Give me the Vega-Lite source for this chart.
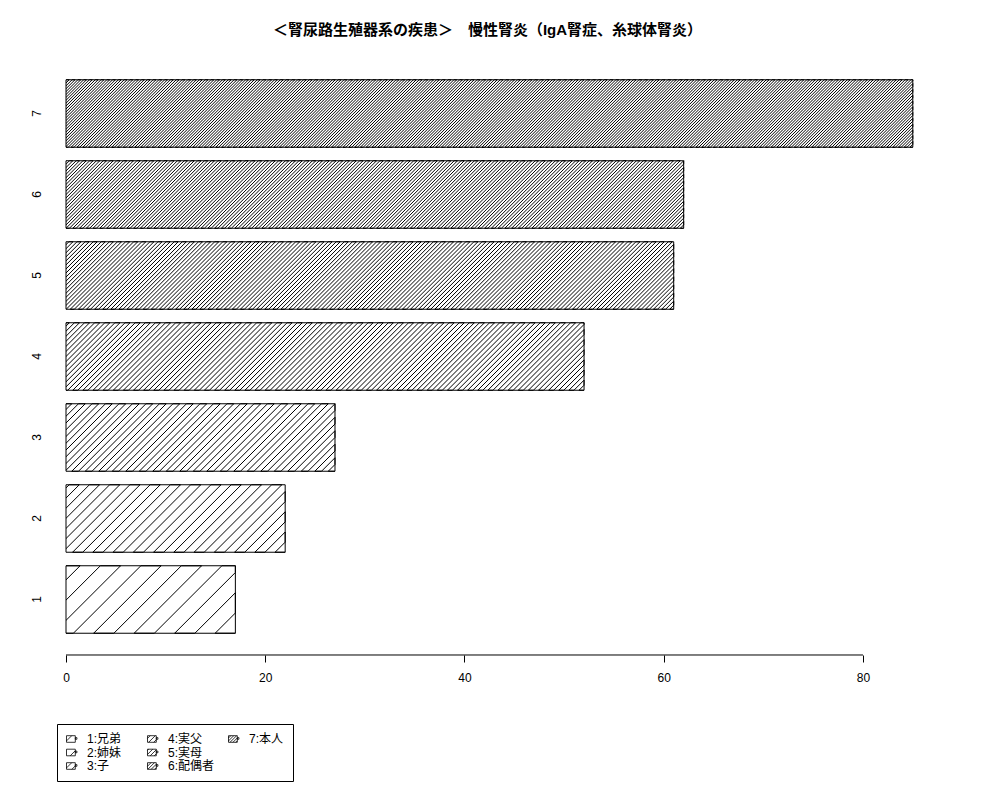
{
  "$schema": "https://vega.github.io/schema/vega-lite/v6.json",
  "autosize": {"type": "none"},
  "width": 881,
  "height": 597,
  "padding": {"left": 66, "top": 58, "right": 53, "bottom": 145},
  "background": "white",
  "title": {
    "text": "＜腎尿路生殖器系の疾患＞　慢性腎炎（IgA腎症、糸球体腎炎）",
    "font": "Liberation Sans, Noto Sans CJK JP",
    "fontSize": 15,
    "fontWeight": "bold",
    "color": "black",
    "anchor": "middle",
    "dx": -19,
    "offset": 20
  },
  "data": {
    "values": [
      {"rel": "1", "label": "1:兄弟", "n": 17},
      {"rel": "2", "label": "2:姉妹", "n": 22},
      {"rel": "3", "label": "3:子", "n": 27},
      {"rel": "4", "label": "4:実父", "n": 52},
      {"rel": "5", "label": "5:実母", "n": 61},
      {"rel": "6", "label": "6:配偶者", "n": 62},
      {"rel": "7", "label": "7:本人", "n": 85}
    ]
  },
  "encoding": {
    "y": {
      "field": "rel",
      "type": "nominal",
      "sort": ["7", "6", "5", "4", "3", "2", "1"],
      "scale": {"paddingInner": 0.16667, "paddingOuter": 0.26852},
      "axis": {
        "title": null,
        "domain": false,
        "ticks": false,
        "tickSize": 0,
        "labelAngle": -90,
        "labelAlign": "center",
        "labelBaseline": "middle",
        "labelPadding": 30,
        "labelFont": "Liberation Sans",
        "labelFontSize": 12,
        "labelColor": "black"
      }
    },
    "x": {
      "field": "n",
      "type": "quantitative",
      "scale": {"domain": [0, 88.432], "nice": false},
      "axis": {
        "title": null,
        "values": [0, 20, 40, 60, 80],
        "format": "d",
        "grid": false,
        "domain": false,
        "tickColor": "black",
        "tickSize": 7,
        "tickWidth": 1,
        "labelFont": "Liberation Sans",
        "labelFontSize": 12,
        "labelColor": "black",
        "labelPadding": 10,
        "labelFlush": false,
        "labelOverlap": false
      }
    }
  },
  "layer": [
    {
      "mark": {
        "type": "point",
        "filled": false,
        "stroke": "black",
        "strokeWidth": 1,
        "strokeJoin": "bevel",
        "opacity": 1,
        "size": 4556.25,
        "clip": true
      },
      "encoding": {
        "shape": {
          "field": "label",
          "type": "nominal",
          "legend": null,
          "scale": {
            "domain": ["1:兄弟", "2:姉妹", "3:子", "4:実父", "5:実母", "6:配偶者", "7:本人"],
            "range": [
              "M0 1l-.6 0 .6-.6 0-.6-1.2 1.2-.6 0 1.8-1.8 0-.2-.4 0-2 2-.6 0 2-2-.6 0-2 2-.6 0 2-2-.6 0-2 2-.6 0 2-2-.6 0-2 2-.6 0 2-2-.6 0-2 2-.6 0 2-2-.6 0-2 2-.6 0 2-2-.6 0-2 2",
              "M0 1l-.3 0 .3-.3 0-.3-.6 .6-.3 0 .9-.9 0-.3-1.2 1.2-.3 0 1.5-1.5 0-.3-1.8 1.8-.3 0 2-2-.3 0-2 2-.3 0 2-2-.3 0-2 2-.3 0 2-2-.3 0-2 2-.3 0 2-2-.3 0-2 2-.3 0 2-2-.3 0-2 2-.3 0 2-2-.3 0-2 2-.3 0 2-2-.3 0-2 2-.3 0 2-2-.3 0-2 2-.3 0 2-2-.3 0-2 2-.3 0 2-2-.3 0-2 2-.3 0 2-2-.3 0-2 2-.3 0 2-2-.3 0-2 2-.3 0 2-2-.3 0-2 2-.3 0 2-2-.3 0-2 2-.3 0 2-2-.3 0-2 2-.3 0 2-2-.3 0-2 2",
              "M0 1l-.2 0 .2-.2 0-.2-.4 .4-.2 0 .6-.6 0-.2-.8 .8-.2 0 1-1 0-.2-1.2 1.2-.2 0 1.4-1.4 0-.2-1.6 1.6-.2 0 1.8-1.8 0-.2-2 2-.2 0 2-2-.2 0-2 2-.2 0 2-2-.2 0-2 2-.2 0 2-2-.2 0-2 2-.2 0 2-2-.2 0-2 2-.2 0 2-2-.2 0-2 2-.2 0 2-2-.2 0-2 2-.2 0 2-2-.2 0-2 2-.2 0 2-2-.2 0-2 2-.2 0 2-2-.2 0-2 2-.2 0 2-2-.2 0-2 2-.2 0 2-2-.2 0-2 2-.2 0 2-2-.2 0-2 2-.2 0 2-2-.2 0-2 2-.2 0 2-2-.2 0-2 2-.2 0 2-2-.2 0-2 2-.2 0 2-2-.2 0-2 2-.2 0 2-2-.2 0-2 2-.2 0 2-2-.2 0-2 2-.2 0 2-2-.2 0-2 2-.2 0 2-2-.2 0-2 2-.2 0 2-2-.2 0-2 2-.2 0 2-2-.2 0-2 2-.2 0 2-2-.2 0-2 2-.2 0 2-2-.2 0-2 2-.2 0 2-2-.2 0-2 2",
              "M0 1l-.15 0 .15-.15 0-.15-.3 .3-.15 0 .45-.45 0-.15-.6 .6-.15 0 .75-.75 0-.15-.9 .9-.15 0 1.05-1.05 0-.15-1.2 1.2-.15 0 1.35-1.35 0-.15-1.5 1.5-.15 0 1.65-1.65 0-.15-1.8 1.8-.15 0 1.95-1.95 0-.05-.1 0-2 2-.15 0 2-2-.15 0-2 2-.15 0 2-2-.15 0-2 2-.15 0 2-2-.15 0-2 2-.15 0 2-2-.15 0-2 2-.15 0 2-2-.15 0-2 2-.15 0 2-2-.15 0-2 2-.15 0 2-2-.15 0-2 2-.15 0 2-2-.15 0-2 2-.15 0 2-2-.15 0-2 2-.15 0 2-2-.15 0-2 2-.15 0 2-2-.15 0-2 2-.15 0 2-2-.15 0-2 2-.15 0 2-2-.15 0-2 2-.15 0 2-2-.15 0-2 2-.15 0 2-2-.15 0-2 2-.15 0 2-2-.15 0-2 2-.15 0 2-2-.15 0-2 2-.15 0 2-2-.15 0-2 2-.15 0 2-2-.15 0-2 2-.15 0 2-2-.15 0-2 2-.15 0 2-2-.15 0-2 2-.15 0 2-2-.15 0-2 2-.15 0 2-2-.15 0-2 2-.15 0 2-2-.15 0-2 2-.15 0 2-2-.15 0-2 2-.15 0 2-2-.15 0-2 2-.15 0 2-2-.15 0-2 2-.15 0 2-2-.15 0-2 2-.15 0 2-2-.15 0-2 2-.15 0 2-2-.15 0-2 2-.15 0 2-2-.15 0-2 2-.15 0 2-2-.15 0-2 2-.15 0 2-2-.15 0-2 2-.15 0 2-2-.15 0-2 2-.15 0 2-2-.15 0-2 2-.15 0 2-2-.15 0-2 2-.15 0 2-2-.15 0-2 2-.15 0 2-2-.15 0-2 2-.15 0 2-2-.15 0-2 2-.15 0 2-2-.15 0-2 2-.15 0 2-2-.15 0-2 2-.15 0 2-2-.15 0-2 2-.15 0 2-2-.15 0-2 2-.15 0 2-2-.15 0-2 2-.15 0 2-2-.15 0-2 2-.15 0 2-2-.15 0-2 2-.15 0 2-2-.15 0-2 2-.15 0 2-2-.15 0-2 2-.15 0 2-2-.15 0-2 2-.15 0 2-2-.15 0-2 2-.15 0 2-2-.15 0-2 2-.15 0 2-2-.15 0-2 2-.15 0 2-2-.15 0-2 2-.15 0 2-2-.15 0-2 2-.15 0 2-2-.15 0-2 2-.15 0 2-2-.15 0-2 2-.15 0 2-2-.15 0-2 2-.15 0 2-2-.15 0-2 2",
              "M0 1l-.12 0 .12-.12 0-.12-.24 .24-.12 0 .36-.36 0-.12-.48 .48-.12 0 .6-.6 0-.12-.72 .72-.12 0 .84-.84 0-.12-.96 .96-.12 0 1.08-1.08 0-.12-1.2 1.2-.12 0 1.32-1.32 0-.12-1.44 1.44-.12 0 1.56-1.56 0-.12-1.68 1.68-.12 0 1.8-1.8 0-.12-1.92 1.92-.12 0 2-2-.12 0-2 2-.12 0 2-2-.12 0-2 2-.12 0 2-2-.12 0-2 2-.12 0 2-2-.12 0-2 2-.12 0 2-2-.12 0-2 2-.12 0 2-2-.12 0-2 2-.12 0 2-2-.12 0-2 2-.12 0 2-2-.12 0-2 2-.12 0 2-2-.12 0-2 2-.12 0 2-2-.12 0-2 2-.12 0 2-2-.12 0-2 2-.12 0 2-2-.12 0-2 2-.12 0 2-2-.12 0-2 2-.12 0 2-2-.12 0-2 2-.12 0 2-2-.12 0-2 2-.12 0 2-2-.12 0-2 2-.12 0 2-2-.12 0-2 2-.12 0 2-2-.12 0-2 2-.12 0 2-2-.12 0-2 2-.12 0 2-2-.12 0-2 2-.12 0 2-2-.12 0-2 2-.12 0 2-2-.12 0-2 2-.12 0 2-2-.12 0-2 2-.12 0 2-2-.12 0-2 2-.12 0 2-2-.12 0-2 2-.12 0 2-2-.12 0-2 2-.12 0 2-2-.12 0-2 2-.12 0 2-2-.12 0-2 2-.12 0 2-2-.12 0-2 2-.12 0 2-2-.12 0-2 2-.12 0 2-2-.12 0-2 2-.12 0 2-2-.12 0-2 2-.12 0 2-2-.12 0-2 2-.12 0 2-2-.12 0-2 2-.12 0 2-2-.12 0-2 2-.12 0 2-2-.12 0-2 2-.12 0 2-2-.12 0-2 2-.12 0 2-2-.12 0-2 2-.12 0 2-2-.12 0-2 2-.12 0 2-2-.12 0-2 2-.12 0 2-2-.12 0-2 2-.12 0 2-2-.12 0-2 2-.12 0 2-2-.12 0-2 2-.12 0 2-2-.12 0-2 2-.12 0 2-2-.12 0-2 2-.12 0 2-2-.12 0-2 2-.12 0 2-2-.12 0-2 2-.12 0 2-2-.12 0-2 2-.12 0 2-2-.12 0-2 2-.12 0 2-2-.12 0-2 2-.12 0 2-2-.12 0-2 2-.12 0 2-2-.12 0-2 2-.12 0 2-2-.12 0-2 2-.12 0 2-2-.12 0-2 2-.12 0 2-2-.12 0-2 2-.12 0 2-2-.12 0-2 2-.12 0 2-2-.12 0-2 2-.12 0 2-2-.12 0-2 2-.12 0 2-2-.12 0-2 2-.12 0 2-2-.12 0-2 2-.12 0 2-2-.12 0-2 2-.12 0 2-2-.12 0-2 2-.12 0 2-2-.12 0-2 2-.12 0 2-2-.12 0-2 2-.12 0 2-2-.12 0-2 2-.12 0 2-2-.12 0-2 2-.12 0 2-2-.12 0-2 2-.12 0 2-2-.12 0-2 2-.12 0 2-2-.12 0-2 2-.12 0 2-2-.12 0-2 2-.12 0 2-2-.12 0-2 2-.12 0 2-2-.12 0-2 2-.12 0 2-2-.12 0-2 2-.12 0 2-2-.12 0-2 2-.12 0 2-2-.12 0-2 2-.12 0 2-2-.12 0-2 2-.12 0 2-2-.12 0-2 2-.12 0 2-2-.12 0-2 2-.12 0 2-2-.12 0-2 2-.12 0 2-2-.12 0-2 2-.12 0 2-2-.12 0-2 2-.12 0 2-2-.12 0-2 2-.12 0 2-2-.12 0-2 2-.12 0 2-2-.12 0-2 2-.12 0 2-2-.12 0-2 2-.12 0 2-2-.12 0-2 2-.12 0 2-2-.12 0-2 2-.12 0 2-2-.12 0-2 2-.12 0 2-2-.12 0-2 2",
              "M0 1l-.1 0 .1-.1 0-.1-.2 .2-.1 0 .3-.3 0-.1-.4 .4-.1 0 .5-.5 0-.1-.6 .6-.1 0 .7-.7 0-.1-.8 .8-.1 0 .9-.9 0-.1-1 1-.1 0 1.1-1.1 0-.1-1.2 1.2-.1 0 1.3-1.3 0-.1-1.4 1.4-.1 0 1.5-1.5 0-.1-1.6 1.6-.1 0 1.7-1.7 0-.1-1.8 1.8-.1 0 1.9-1.9 0-.1-2 2-.1 0 2-2-.1 0-2 2-.1 0 2-2-.1 0-2 2-.1 0 2-2-.1 0-2 2-.1 0 2-2-.1 0-2 2-.1 0 2-2-.1 0-2 2-.1 0 2-2-.1 0-2 2-.1 0 2-2-.1 0-2 2-.1 0 2-2-.1 0-2 2-.1 0 2-2-.1 0-2 2-.1 0 2-2-.1 0-2 2-.1 0 2-2-.1 0-2 2-.1 0 2-2-.1 0-2 2-.1 0 2-2-.1 0-2 2-.1 0 2-2-.1 0-2 2-.1 0 2-2-.1 0-2 2-.1 0 2-2-.1 0-2 2-.1 0 2-2-.1 0-2 2-.1 0 2-2-.1 0-2 2-.1 0 2-2-.1 0-2 2-.1 0 2-2-.1 0-2 2-.1 0 2-2-.1 0-2 2-.1 0 2-2-.1 0-2 2-.1 0 2-2-.1 0-2 2-.1 0 2-2-.1 0-2 2-.1 0 2-2-.1 0-2 2-.1 0 2-2-.1 0-2 2-.1 0 2-2-.1 0-2 2-.1 0 2-2-.1 0-2 2-.1 0 2-2-.1 0-2 2-.1 0 2-2-.1 0-2 2-.1 0 2-2-.1 0-2 2-.1 0 2-2-.1 0-2 2-.1 0 2-2-.1 0-2 2-.1 0 2-2-.1 0-2 2-.1 0 2-2-.1 0-2 2-.1 0 2-2-.1 0-2 2-.1 0 2-2-.1 0-2 2-.1 0 2-2-.1 0-2 2-.1 0 2-2-.1 0-2 2-.1 0 2-2-.1 0-2 2-.1 0 2-2-.1 0-2 2-.1 0 2-2-.1 0-2 2-.1 0 2-2-.1 0-2 2-.1 0 2-2-.1 0-2 2-.1 0 2-2-.1 0-2 2-.1 0 2-2-.1 0-2 2-.1 0 2-2-.1 0-2 2-.1 0 2-2-.1 0-2 2-.1 0 2-2-.1 0-2 2-.1 0 2-2-.1 0-2 2-.1 0 2-2-.1 0-2 2-.1 0 2-2-.1 0-2 2-.1 0 2-2-.1 0-2 2-.1 0 2-2-.1 0-2 2-.1 0 2-2-.1 0-2 2-.1 0 2-2-.1 0-2 2-.1 0 2-2-.1 0-2 2-.1 0 2-2-.1 0-2 2-.1 0 2-2-.1 0-2 2-.1 0 2-2-.1 0-2 2-.1 0 2-2-.1 0-2 2-.1 0 2-2-.1 0-2 2-.1 0 2-2-.1 0-2 2-.1 0 2-2-.1 0-2 2-.1 0 2-2-.1 0-2 2-.1 0 2-2-.1 0-2 2-.1 0 2-2-.1 0-2 2-.1 0 2-2-.1 0-2 2-.1 0 2-2-.1 0-2 2-.1 0 2-2-.1 0-2 2-.1 0 2-2-.1 0-2 2-.1 0 2-2-.1 0-2 2-.1 0 2-2-.1 0-2 2-.1 0 2-2-.1 0-2 2-.1 0 2-2-.1 0-2 2-.1 0 2-2-.1 0-2 2-.1 0 2-2-.1 0-2 2-.1 0 2-2-.1 0-2 2-.1 0 2-2-.1 0-2 2-.1 0 2-2-.1 0-2 2-.1 0 2-2-.1 0-2 2-.1 0 2-2-.1 0-2 2-.1 0 2-2-.1 0-2 2-.1 0 2-2-.1 0-2 2-.1 0 2-2-.1 0-2 2-.1 0 2-2-.1 0-2 2-.1 0 2-2-.1 0-2 2-.1 0 2-2-.1 0-2 2-.1 0 2-2-.1 0-2 2-.1 0 2-2-.1 0-2 2-.1 0 2-2-.1 0-2 2-.1 0 2-2-.1 0-2 2-.1 0 2-2-.1 0-2 2-.1 0 2-2-.1 0-2 2-.1 0 2-2-.1 0-2 2-.1 0 2-2-.1 0-2 2-.1 0 2-2-.1 0-2 2-.1 0 2-2-.1 0-2 2-.1 0 2-2-.1 0-2 2-.1 0 2-2-.1 0-2 2-.1 0 2-2-.1 0-2 2-.1 0 2-2-.1 0-2 2-.1 0 2-2-.1 0-2 2-.1 0 2-2-.1 0-2 2-.1 0 2-2-.1 0-2 2-.1 0 2-2-.1 0-2 2-.1 0 2-2-.1 0-2 2-.1 0 2-2-.1 0-2 2-.1 0 2-2-.1 0-2 2-.1 0 2-2-.1 0-2 2-.1 0 2-2-.1 0-2 2-.1 0 2-2-.1 0-2 2-.1 0 2-2-.1 0-2 2",
              "M0 1l-.0857 0 .0857-.0857 0-.0857-.1714 .1714-.0857 0 .2571-.2571 0-.0857-.3428 .3428-.0857 0 .4285-.4285 0-.0857-.5142 .5142-.0857 0 .5999-.5999 0-.0857-.6856 .6856-.0857 0 .7713-.7713 0-.0857-.857 .857-.0857 0 .9427-.9427 0-.0857-1.0284 1.0284-.0857 0 1.1141-1.1141 0-.0857-1.1998 1.1998-.0857 0 1.2855-1.2855 0-.0857-1.3712 1.3712-.0857 0 1.4569-1.4569 0-.0857-1.5426 1.5426-.0857 0 1.6283-1.6283 0-.0857-1.714 1.714-.0857 0 1.7997-1.7997 0-.0857-1.8854 1.8854-.0857 0 1.9711-1.9711 0-.0289-.0568 0-2 2-.0857 0 2-2-.0857 0-2 2-.0857 0 2-2-.0857 0-2 2-.0857 0 2-2-.0857 0-2 2-.0857 0 2-2-.0857 0-2 2-.0857 0 2-2-.0857 0-2 2-.0857 0 2-2-.0857 0-2 2-.0857 0 2-2-.0857 0-2 2-.0857 0 2-2-.0857 0-2 2-.0857 0 2-2-.0857 0-2 2-.0857 0 2-2-.0857 0-2 2-.0857 0 2-2-.0857 0-2 2-.0857 0 2-2-.0857 0-2 2-.0857 0 2-2-.0857 0-2 2-.0857 0 2-2-.0857 0-2 2-.0857 0 2-2-.0857 0-2 2-.0857 0 2-2-.0857 0-2 2-.0857 0 2-2-.0857 0-2 2-.0857 0 2-2-.0857 0-2 2-.0857 0 2-2-.0857 0-2 2-.0857 0 2-2-.0857 0-2 2-.0857 0 2-2-.0857 0-2 2-.0857 0 2-2-.0857 0-2 2-.0857 0 2-2-.0857 0-2 2-.0857 0 2-2-.0857 0-2 2-.0857 0 2-2-.0857 0-2 2-.0857 0 2-2-.0857 0-2 2-.0857 0 2-2-.0857 0-2 2-.0857 0 2-2-.0857 0-2 2-.0857 0 2-2-.0857 0-2 2-.0857 0 2-2-.0857 0-2 2-.0857 0 2-2-.0857 0-2 2-.0857 0 2-2-.0857 0-2 2-.0857 0 2-2-.0857 0-2 2-.0857 0 2-2-.0857 0-2 2-.0857 0 2-2-.0857 0-2 2-.0857 0 2-2-.0857 0-2 2-.0857 0 2-2-.0857 0-2 2-.0857 0 2-2-.0857 0-2 2-.0857 0 2-2-.0857 0-2 2-.0857 0 2-2-.0857 0-2 2-.0857 0 2-2-.0857 0-2 2-.0857 0 2-2-.0857 0-2 2-.0857 0 2-2-.0857 0-2 2-.0857 0 2-2-.0857 0-2 2-.0857 0 2-2-.0857 0-2 2-.0857 0 2-2-.0857 0-2 2-.0857 0 2-2-.0857 0-2 2-.0857 0 2-2-.0857 0-2 2-.0857 0 2-2-.0857 0-2 2-.0857 0 2-2-.0857 0-2 2-.0857 0 2-2-.0857 0-2 2-.0857 0 2-2-.0857 0-2 2-.0857 0 2-2-.0857 0-2 2-.0857 0 2-2-.0857 0-2 2-.0857 0 2-2-.0857 0-2 2-.0857 0 2-2-.0857 0-2 2-.0857 0 2-2-.0857 0-2 2-.0857 0 2-2-.0857 0-2 2-.0857 0 2-2-.0857 0-2 2-.0857 0 2-2-.0857 0-2 2-.0857 0 2-2-.0857 0-2 2-.0857 0 2-2-.0857 0-2 2-.0857 0 2-2-.0857 0-2 2-.0857 0 2-2-.0857 0-2 2-.0857 0 2-2-.0857 0-2 2-.0857 0 2-2-.0857 0-2 2-.0857 0 2-2-.0857 0-2 2-.0857 0 2-2-.0857 0-2 2-.0857 0 2-2-.0857 0-2 2-.0857 0 2-2-.0857 0-2 2-.0857 0 2-2-.0857 0-2 2-.0857 0 2-2-.0857 0-2 2-.0857 0 2-2-.0857 0-2 2-.0857 0 2-2-.0857 0-2 2-.0857 0 2-2-.0857 0-2 2-.0857 0 2-2-.0857 0-2 2-.0857 0 2-2-.0857 0-2 2-.0857 0 2-2-.0857 0-2 2-.0857 0 2-2-.0857 0-2 2-.0857 0 2-2-.0857 0-2 2-.0857 0 2-2-.0857 0-2 2-.0857 0 2-2-.0857 0-2 2-.0857 0 2-2-.0857 0-2 2-.0857 0 2-2-.0857 0-2 2-.0857 0 2-2-.0857 0-2 2-.0857 0 2-2-.0857 0-2 2-.0857 0 2-2-.0857 0-2 2-.0857 0 2-2-.0857 0-2 2-.0857 0 2-2-.0857 0-2 2-.0857 0 2-2-.0857 0-2 2-.0857 0 2-2-.0857 0-2 2-.0857 0 2-2-.0857 0-2 2-.0857 0 2-2-.0857 0-2 2-.0857 0 2-2-.0857 0-2 2-.0857 0 2-2-.0857 0-2 2-.0857 0 2-2-.0857 0-2 2-.0857 0 2-2-.0857 0-2 2-.0857 0 2-2-.0857 0-2 2-.0857 0 2-2-.0857 0-2 2-.0857 0 2-2-.0857 0-2 2-.0857 0 2-2-.0857 0-2 2-.0857 0 2-2-.0857 0-2 2-.0857 0 2-2-.0857 0-2 2-.0857 0 2-2-.0857 0-2 2-.0857 0 2-2-.0857 0-2 2-.0857 0 2-2-.0857 0-2 2-.0857 0 2-2-.0857 0-2 2-.0857 0 2-2-.0857 0-2 2-.0857 0 2-2-.0857 0-2 2-.0857 0 2-2-.0857 0-2 2-.0857 0 2-2-.0857 0-2 2-.0857 0 2-2-.0857 0-2 2-.0857 0 2-2-.0857 0-2 2-.0857 0 2-2-.0857 0-2 2-.0857 0 2-2-.0857 0-2 2-.0857 0 2-2-.0857 0-2 2-.0857 0 2-2-.0857 0-2 2-.0857 0 2-2-.0857 0-2 2-.0857 0 2-2-.0857 0-2 2-.0857 0 2-2-.0857 0-2 2-.0857 0 2-2-.0857 0-2 2-.0857 0 2-2-.0857 0-2 2-.0857 0 2-2-.0857 0-2 2-.0857 0 2-2-.0857 0-2 2-.0857 0 2-2-.0857 0-2 2-.0857 0 2-2-.0857 0-2 2-.0857 0 2-2-.0857 0-2 2-.0857 0 2-2-.0857 0-2 2-.0857 0 2-2-.0857 0-2 2-.0857 0 2-2-.0857 0-2 2-.0857 0 2-2-.0857 0-2 2-.0857 0 2-2-.0857 0-2 2-.0857 0 2-2-.0857 0-2 2-.0857 0 2-2-.0857 0-2 2-.0857 0 2-2-.0857 0-2 2-.0857 0 2-2-.0857 0-2 2-.0857 0 2-2-.0857 0-2 2-.0857 0 2-2-.0857 0-2 2-.0857 0 2-2-.0857 0-2 2-.0857 0 2-2-.0857 0-2 2-.0857 0 2-2-.0857 0-2 2-.0857 0 2-2-.0857 0-2 2-.0857 0 2-2-.0857 0-2 2-.0857 0 2-2-.0857 0-2 2-.0857 0 2-2-.0857 0-2 2-.0857 0 2-2-.0857 0-2 2-.0857 0 2-2-.0857 0-2 2-.0857 0 2-2-.0857 0-2 2-.0857 0 2-2-.0857 0-2 2-.0857 0 2-2-.0857 0-2 2-.0857 0 2-2-.0857 0-2 2"
            ]
          }
        }
      }
    },
    {
      "mark": {"type": "bar", "fill": "transparent", "stroke": "black", "strokeWidth": 1}
    },
    {
      "mark": {"type": "point", "filled": false, "stroke": "black", "opacity": 0, "size": 121},
      "encoding": {
        "shape": {
          "field": "label",
          "type": "nominal",
          "scale": {
            "domain": ["1:兄弟", "2:姉妹", "3:子", "4:実父", "5:実母", "6:配偶者", "7:本人", " ", "  "],
            "range": [
              "M-1-.6H.6V.6H-1ZM.6-.25H.9V.05H.6ZM-.05-.6L-1 .35",
              "M-1-.6H.6V.6H-1ZM.6-.25H.9V.05H.6ZM.6-.33L-.33 .6",
              "M-1-.6H.6V.6H-1ZM.6-.25H.9V.05H.6ZM.6-.02L-.02 .6M-.05-.6L-1 .35",
              "M-1-.6H.6V.6H-1ZM.6-.25H.9V.05H.6ZM.6 .14L.14 .6M.41-.6L-.79 .6M-.51-.6L-1-.11",
              "M-1-.6H.6V.6H-1ZM.6-.25H.9V.05H.6ZM.6 .23L.23 .6M.6-.51L-.51 .6M-.05-.6L-1 .35M-.79-.6L-1-.39",
              "M-1-.6H.6V.6H-1ZM.6-.25H.9V.05H.6ZM.6 .29L.29 .6M.6-.33L-.33 .6M.26-.6L-.94 .6M-.36-.6L-1 .04",
              "M-1-.6H.6V.6H-1ZM.6-.25H.9V.05H.6ZM.6 .34L.34 .6M.6-.19L-.19 .6M.48-.6L-.72 .6M-.05-.6L-1 .35M-.58-.6L-1-.18",
              "M0 0",
              "M0 0"
            ]
          },
          "legend": {
            "title": null,
            "orient": "none",
            "legendX": -9,
            "legendY": 666,
            "columns": 3,
            "gridAlign": "all",
            "columnPadding": 11,
            "rowPadding": 1.5,
            "padding": 9,
            "strokeColor": "black",
            "symbolSize": 121,
            "symbolStrokeWidth": 0.8,
            "symbolStrokeColor": "black",
            "symbolFillColor": "transparent",
            "symbolOpacity": 1,
            "labelFont": "Liberation Sans, Noto Sans CJK JP",
            "labelFontSize": 12,
            "labelColor": "black",
            "labelOffset": 9
          }
        }
      }
    },
    {
      "data": {"values": [{"from": 0, "to": 80}]},
      "mark": {"type": "rule", "color": "black", "strokeWidth": 1},
      "encoding": {
        "x": {"field": "from", "type": "quantitative"},
        "x2": {"field": "to"},
        "y": {"datum": "1", "bandPosition": 1.3222}
      }
    }
  ],
  "resolve": {"scale": {"shape": "independent"}},
  "config": {"view": {"stroke": null}}
}
